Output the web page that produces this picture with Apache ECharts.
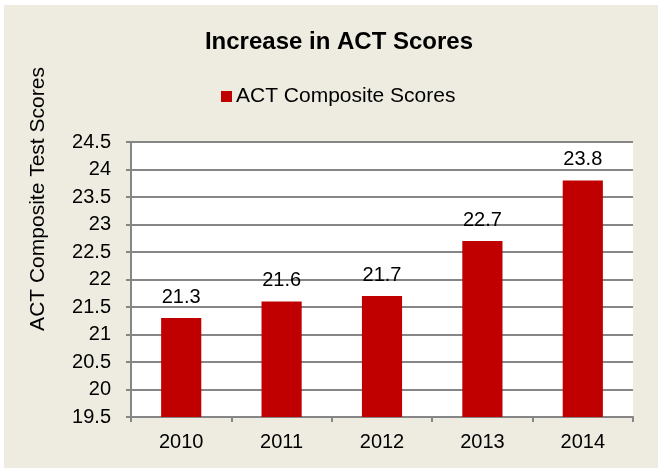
<!DOCTYPE html>
<html>
<head>
<meta charset="utf-8">
<script src="https://cdn.jsdelivr.net/npm/echarts@6/dist/echarts.min.js"></script>
<style>
html, body { margin: 0; padding: 0; background: #fff; }
#chart { width: 658px; height: 468px; }
</style>
</head>
<body>
<div id="chart"></div>
<script>
var years = ['2010', '2011', '2012', '2013', '2014'];
var scores = [21.3, 21.6, 21.7, 22.7, 23.8];

var chart = echarts.init(document.getElementById('chart'));
var font = 'Liberation Sans, Arial, sans-serif';

var option = {
	backgroundColor: '#ffffff',
	animation: false,
	graphic: [{
		type: 'rect',
		z: -10,
		shape: { x: 4, y: 5, width: 660, height: 470 },
		style: { fill: '#eeece1' }
	}, {
		type: 'text',
		x: 38,
		y: 199,
		rotation: Math.PI / 2,
		style: {
			text: 'ACT Composite Test Scores',
			font: '21px ' + font,
			fill: '#000',
			align: 'center',
			verticalAlign: 'middle'
		}
	}],
	title: {
		text: 'Increase in ACT Scores',
		left: 334,
		top: 25,
		textAlign: 'center',
		textStyle: {
			fontFamily: font,
			fontSize: 24,
			fontWeight: 'bold',
			color: '#000'
		}
	},
	legend: {
		top: 81,
		left: 216,
		itemWidth: 11,
		itemHeight: 11,
		itemGap: 4,
		icon: 'rect',
		textStyle: { fontFamily: font, fontSize: 21, color: '#000', padding: [0, 0, 0, -1] },
		data: ['ACT Composite Scores']
	},
	grid: {
		left: 131,
		right: 25,
		top: 142,
		bottom: 51,
		backgroundColor: '#ffffff',
		show: true,
		borderWidth: 0
	},
	xAxis: {
		type: 'category',
		data: years,
		axisLine: { lineStyle: { color: '#868686', width: 2 } },
		axisTick: { show: true, length: 5, lineStyle: { color: '#868686', width: 2 } },
		axisLabel: { fontFamily: font, fontSize: 20, color: '#000', margin: 15 }
	},
	yAxis: {
		type: 'value',
		min: 19.5,
		max: 24.5,
		interval: 0.5,
		axisLine: { show: true, lineStyle: { color: '#868686', width: 2 } },
		axisTick: { show: true, length: 5, lineStyle: { color: '#868686', width: 2 } },
		splitLine: { lineStyle: { color: '#868686', width: 2 } },
		axisLabel: { fontFamily: font, fontSize: 20, color: '#000', margin: 20 }
	},
	series: [{
		name: 'ACT Composite Scores',
		type: 'bar',
		data: scores,
		barWidth: '40%',
		itemStyle: { color: '#c00000' },
		label: {
			show: true,
			position: 'top',
			distance: 11,
			fontFamily: font,
			fontSize: 20,
			color: '#000'
		}
	}]
};

chart.setOption(option);
</script>
</body>
</html>
